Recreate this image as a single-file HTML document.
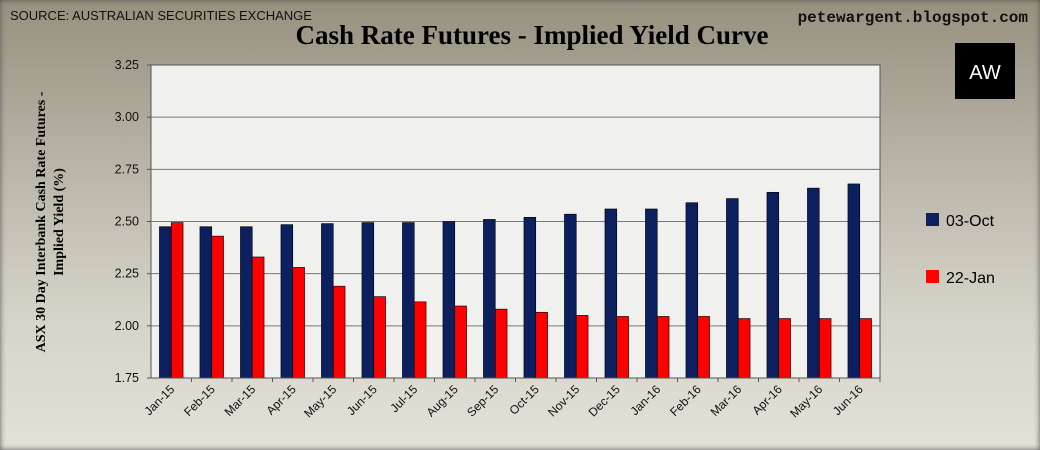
<!DOCTYPE html>
<html><head><meta charset="utf-8"><style>
body{margin:0;width:1040px;height:450px;overflow:hidden;font-family:"Liberation Sans",sans-serif}
#wrap{position:absolute;left:0;top:0;width:1040px;height:450px;background:linear-gradient(180deg,#96907f 0%,#b7b2a6 35%,#d6d3c8 70%,#e3e1d8 100%);box-shadow:inset 0 0 6px #555}
</style></head><body>
<div id="wrap">
<svg width="1040" height="450" style="position:absolute;left:0;top:0">
<text x="10" y="20" font-size="13" fill="#111">SOURCE: AUSTRALIAN SECURITIES EXCHANGE</text>
<text x="532" y="44" text-anchor="middle" font-family="Liberation Serif" font-weight="bold" font-size="27" fill="#000">Cash Rate Futures - Implied Yield Curve</text>
<text x="1028" y="22" text-anchor="end" font-family="Liberation Mono" font-weight="bold" font-size="16" fill="#111">petewargent.blogspot.com</text>
<rect x="955" y="43" width="60" height="56" fill="#000"/>
<text x="985" y="79" text-anchor="middle" font-size="20" fill="#fff">AW</text>
<rect x="151" y="65" width="729" height="313" fill="#f0f0ee" stroke="#555"/>
<g id="grid"></g><g id="bars"></g><g id="axes"></g>
<text transform="translate(53,222) rotate(-90)" text-anchor="middle" font-family="Liberation Serif" font-weight="bold" font-size="14"><tspan x="0" dy="-8">ASX 30 Day Interbank Cash Rate Futures -</tspan><tspan x="0" dy="18">Implied Yield (%)</tspan></text>
<rect x="926" y="213" width="13" height="13" fill="#0c1f5e"/>
<text x="946" y="226" font-size="16">03-Oct</text>
<rect x="926" y="270" width="13" height="13" fill="#ff0000"/>
<text x="946" y="283" font-size="16">22-Jan</text>
</svg></div>
<script>
const categories=["Jan-15","Feb-15","Mar-15","Apr-15","May-15","Jun-15","Jul-15","Aug-15","Sep-15","Oct-15","Nov-15","Dec-15","Jan-16","Feb-16","Mar-16","Apr-16","May-16","Jun-16"];
const oct03=[2.475,2.475,2.475,2.485,2.49,2.495,2.495,2.50,2.51,2.52,2.535,2.56,2.56,2.59,2.61,2.64,2.66,2.68];
const jan22=[2.495,2.43,2.33,2.28,2.19,2.14,2.115,2.095,2.08,2.065,2.05,2.045,2.045,2.045,2.035,2.035,2.035,2.035];
const yTicks=[1.75,2.00,2.25,2.50,2.75,3.00,3.25];
const NS="http://www.w3.org/2000/svg";
const L=151,R=880,T=65,B=378,ymin=1.75,ymax=3.25;
const cw=(R-L)/categories.length;
const y=v=>B-(v-ymin)/(ymax-ymin)*(B-T);
const x=i=>L+cw*i;
function mk(t,a,p){const e=document.createElementNS(NS,t);for(const k in a)e.setAttribute(k,a[k]);p.appendChild(e);return e;}
const grid=document.getElementById('grid'),bars=document.getElementById('bars'),axes=document.getElementById('axes');
yTicks.forEach(v=>{
 if(v>ymin&&v<ymax){const g=mk('line',{x1:L,x2:R,y1:y(v),y2:y(v),stroke:'#777','stroke-width':1},grid);
 
 }
 const t=mk('text',{x:L-12,y:y(v)+4,'text-anchor':'end','font-size':12.5,fill:'#111'},axes);t.textContent=v.toFixed(2);
 
 
 mk('line',{x1:L-4,x2:L,y1:y(v),y2:y(v),stroke:'#555'},axes);
});
mk('line',{x1:L,x2:R,y1:B,y2:B,stroke:'#555'},axes);
categories.forEach((c,i)=>{
 const bw=11.8,cx=x(i)+cw/2;
 const b1=mk('rect',{x:cx-bw,y:y(oct03[i]),width:bw,height:B-y(oct03[i]),fill:'#0c1f5e',stroke:'#000','stroke-width':0.6},bars);
 
 
 const b2=mk('rect',{x:cx,y:y(jan22[i]),width:bw,height:B-y(jan22[i]),fill:'#ff0000',stroke:'#000','stroke-width':0.6},bars);
 
 
 mk('line',{x1:x(i+1),x2:x(i+1),y1:B,y2:B+4,stroke:'#555'},axes);
 const t=mk('text',{x:0,y:0,'text-anchor':'end','font-size':12,fill:'#111',transform:`translate(${cx+4},${B+12}) rotate(-45)`},axes);
 t.textContent=c;
 
 
});
</script>
</body></html>
